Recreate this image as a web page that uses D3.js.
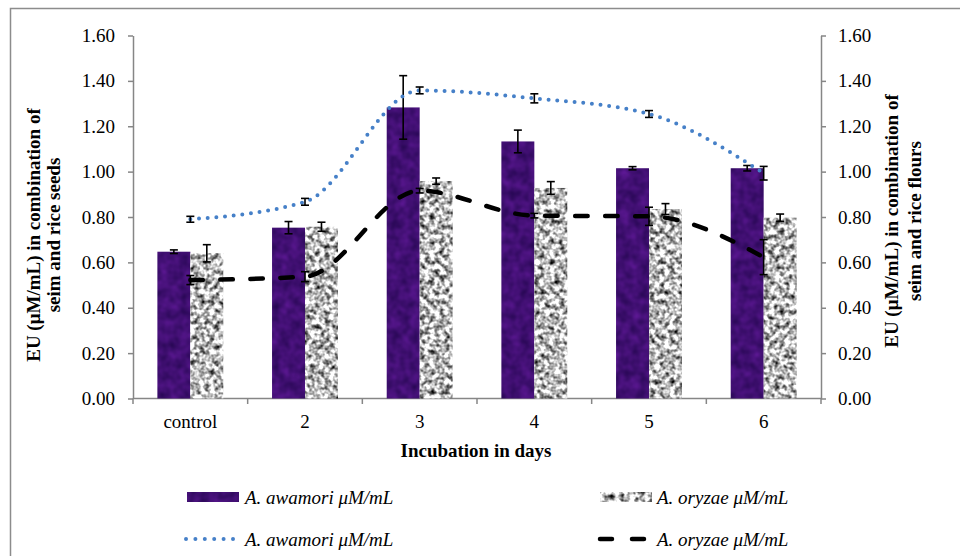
<!DOCTYPE html>
<html>
<head>
<meta charset="utf-8">
<script src="https://cdn.jsdelivr.net/npm/d3@7"></script>
<style>
  body { margin: 0; background: #fff; }
  svg text { font-family: "Liberation Serif", "Times New Roman", serif; }
</style>
</head>
<body>
<svg id="drawing_region"></svg>
<script>
// data
const categories = ["control", "2", "3", "4", "5", "6"];
const awamoriBar = [0.647, 0.753, 1.283, 1.133, 1.015, 1.015];
const awamoriBarErr = [0.008, 0.027, 0.14, 0.05, 0.007, 0.012];
const oryzaeBar = [0.64, 0.757, 0.958, 0.928, 0.835, 0.797];
const oryzaeBarErr = [0.038, 0.02, 0.014, 0.028, 0.024, 0.016];
const awamoriLine = [0.79, 0.867, 1.358, 1.323, 1.254, 0.993];
const awamoriLineErr = [0.013, 0.015, 0.015, 0.02, 0.015, 0.03];
const oryzaeLine = [0.522, 0.537, 0.916, 0.806, 0.803, 0.623];
const oryzaeLineErr = [0.02, 0.022, 0.01, 0.01, 0.04, 0.077];
const yTicks = [0, 0.2, 0.4, 0.6, 0.8, 1.0, 1.2, 1.4, 1.6];
const legendLabels = ["A. awamori \u03bcM/mL", "A. oryzae \u03bcM/mL"];

const W = 960, H = 556;
const axisColor = "#868686";
const blue = "#4680c8";

const svg = d3.select("#drawing_region").attr("width", W).attr("height", H);

// textures for the bars
const defs = svg.append("defs");
const grey = defs.append("filter").attr("id", "greyTex")
  .attr("x", 0).attr("y", 0).attr("width", 1).attr("height", 1)
  .attr("color-interpolation-filters", "sRGB");
grey.append("feTurbulence").attr("type", "fractalNoise")
  .attr("baseFrequency", 0.2).attr("numOctaves", 2).attr("seed", 7).attr("result", "n");
grey.append("feColorMatrix").attr("in", "n").attr("type", "matrix")
  .attr("values", "2 0 0 0 -0.27  2 0 0 0 -0.27  2 0 0 0 -0.27  0 0 0 0 1").attr("result", "g");
grey.append("feComposite").attr("in", "g").attr("in2", "SourceGraphic").attr("operator", "in");

const purp = defs.append("filter").attr("id", "purpTex")
  .attr("x", 0).attr("y", 0).attr("width", 1).attr("height", 1)
  .attr("color-interpolation-filters", "sRGB");
purp.append("feTurbulence").attr("type", "fractalNoise")
  .attr("baseFrequency", 0.1).attr("numOctaves", 2).attr("seed", 3).attr("result", "n");
purp.append("feColorMatrix").attr("in", "n").attr("type", "matrix")
  .attr("values", "0.25 0 0 0 0.13  0.08 0 0 0 0.02  0.3 0 0 0 0.3  0 0 0 0 1").attr("result", "g");
purp.append("feComposite").attr("in", "g").attr("in2", "SourceGraphic").attr("operator", "in");

// outer frame
svg.append("path").attr("d", `M10.5,${H} V8.5 H${W}`)
  .attr("fill", "none").attr("stroke", "#8c8c8c").attr("stroke-width", 1.5);

// scales
const x = d3.scaleBand().domain(categories).range([133, 821]);
const xSub = d3.scaleBand().domain(["awamori", "oryzae"]).range([0, x.bandwidth()])
  .paddingInner(0).paddingOuter(0.74);
const y = d3.scaleLinear().domain([0, 1.6]).range([398.5, 35.5]);
const cx = c => x(c) + x.bandwidth() / 2;

const fmt = d3.format(".2f");

// axes
const yLeft = svg.append("g").attr("transform", "translate(133,0)")
  .call(d3.axisLeft(y).tickValues(yTicks).tickFormat(fmt).tickSize(5).tickPadding(13).tickSizeOuter(0));
const yRight = svg.append("g").attr("transform", "translate(821,0)")
  .call(d3.axisRight(y).tickValues(yTicks).tickFormat(fmt).tickSize(5).tickPadding(12).tickSizeOuter(0));
const xAxis = svg.append("g").attr("transform", "translate(0,398.5)")
  .call(d3.axisBottom(x).tickSize(0).tickPadding(16));
xAxis.select(".domain").remove();

// tick marks between categories
const edges = categories.map(c => x(c)).concat([x.range()[1]]);
svg.append("line").attr("x1", 133).attr("x2", 821).attr("y1", 398.5).attr("y2", 398.5)
  .attr("stroke", axisColor).attr("stroke-width", 1.5);
svg.selectAll(".xtick").data(edges).enter().append("line")
  .attr("x1", d => d).attr("x2", d => d).attr("y1", 398.5).attr("y2", 404)
  .attr("stroke", axisColor).attr("stroke-width", 1.5);

[yLeft, yRight, xAxis].forEach(g => {
  g.selectAll(".domain, line").attr("stroke", axisColor).attr("stroke-width", 1.5);
  g.selectAll("text").attr("font-size", 19).attr("fill", "#000")
    .style("font-family", '"Liberation Serif", "Times New Roman", serif');
});

// bars
const bars = svg.append("g");
bars.selectAll(".aw").data(categories).enter().append("rect")
  .attr("x", c => x(c) + xSub("awamori"))
  .attr("y", (c, i) => y(awamoriBar[i]))
  .attr("width", xSub.bandwidth())
  .attr("height", (c, i) => y(0) - y(awamoriBar[i]))
  .attr("fill", "#42106f").attr("filter", "url(#purpTex)");
bars.selectAll(".or").data(categories).enter().append("rect")
  .attr("x", c => x(c) + xSub("oryzae"))
  .attr("y", (c, i) => y(oryzaeBar[i]))
  .attr("width", xSub.bandwidth())
  .attr("height", (c, i) => y(0) - y(oryzaeBar[i]))
  .attr("fill", "#bbb").attr("filter", "url(#greyTex)");

function errBars(g, xs, vals, errs) {
  const eg = g.append("g").attr("stroke", "#000").attr("stroke-width", 1.6);
  vals.forEach((v, i) => {
    const xp = xs[i], t = y(v + errs[i]), b = y(v - errs[i]);
    eg.append("line").attr("x1", xp).attr("x2", xp).attr("y1", t).attr("y2", b);
    eg.append("line").attr("x1", xp - 4).attr("x2", xp + 4).attr("y1", t).attr("y2", t);
    eg.append("line").attr("x1", xp - 4).attr("x2", xp + 4).attr("y1", b).attr("y2", b);
  });
}
errBars(svg, categories.map(c => x(c) + xSub("awamori") + xSub.bandwidth() / 2), awamoriBar, awamoriBarErr);
errBars(svg, categories.map(c => x(c) + xSub("oryzae") + xSub.bandwidth() / 2), oryzaeBar, oryzaeBarErr);

// smoothed lines
const line = d3.line().x(d => cx(d.c)).y(d => y(d.v)).curve(d3.curveMonotoneX);
svg.append("path")
  .attr("d", line(categories.map((c, i) => ({ c: c, v: awamoriLine[i] }))))
  .attr("fill", "none").attr("stroke", blue).attr("stroke-width", 4)
  .attr("stroke-linecap", "round").attr("stroke-dasharray", "0 8.7");
svg.append("path")
  .attr("d", line(categories.map((c, i) => ({ c: c, v: oryzaeLine[i] }))))
  .attr("fill", "none").attr("stroke", "#000").attr("stroke-width", 4.5)
  .attr("stroke-linecap", "round").attr("stroke-dasharray", "12.5 17.5");

errBars(svg, categories.map(cx), awamoriLine, awamoriLineErr);
errBars(svg, categories.map(cx), oryzaeLine, oryzaeLineErr);

// axis titles
const bold = sel => sel.attr("font-size", 19).attr("font-weight", "bold").attr("text-anchor", "middle");
svg.append("text").attr("x", 476).attr("y", 457).text("Incubation in days").call(bold);
svg.append("text").attr("transform", "translate(33,235) rotate(-90)").attr("dy", "0.35em")
  .text("EU (\u03bcM/mL) in combination of").call(bold);
svg.append("text").attr("transform", "translate(53,235) rotate(-90)").attr("dy", "0.35em")
  .text("seim and rice seeds").call(bold);
svg.append("text").attr("transform", "translate(891,221) rotate(-90)").attr("dy", "0.35em")
  .text("EU (\u03bcM/mL) in combination of").call(bold);
svg.append("text").attr("transform", "translate(914,221) rotate(-90)").attr("dy", "0.35em")
  .text("seim and rice flours").call(bold);

// legend
const leg = svg.append("g");
leg.append("rect").attr("x", 187).attr("y", 492).attr("width", 52).attr("height", 10)
  .attr("fill", "#42106f").attr("filter", "url(#purpTex)");
leg.append("rect").attr("x", 600).attr("y", 492).attr("width", 52).attr("height", 10)
  .attr("fill", "#bbb").attr("filter", "url(#greyTex)");
leg.append("line").attr("x1", 186).attr("x2", 233).attr("y1", 539).attr("y2", 539)
  .attr("stroke", blue).attr("stroke-width", 4).attr("stroke-linecap", "round").attr("stroke-dasharray", "0 9.4");
leg.append("line").attr("x1", 600).attr("x2", 647).attr("y1", 539).attr("y2", 539)
  .attr("stroke", "#000").attr("stroke-width", 4.5).attr("stroke-linecap", "round").attr("stroke-dasharray", "12 20");
[[245, 497, 0], [657, 497, 1], [245, 539, 0], [657, 539, 1]].forEach(p => {
  leg.append("text").attr("x", p[0]).attr("y", p[1]).attr("dy", "0.35em")
    .attr("font-size", 19).attr("font-style", "italic").text(legendLabels[p[2]]);
});
</script>
</body>
</html>
